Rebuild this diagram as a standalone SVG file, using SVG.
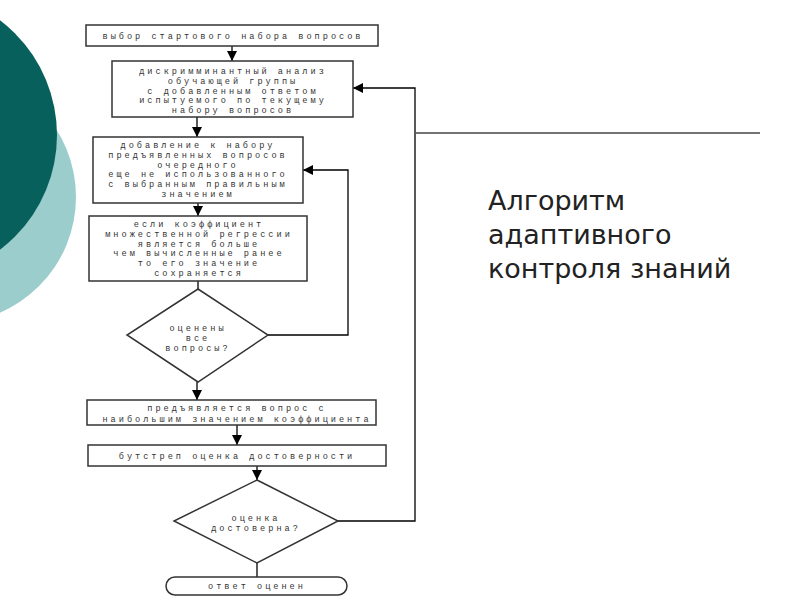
<svg xmlns="http://www.w3.org/2000/svg" width="800" height="600" viewBox="0 0 800 600">
<defs>
<marker id="ah" markerUnits="userSpaceOnUse" markerWidth="10" markerHeight="10" refX="10" refY="5" orient="auto" viewBox="0 0 10 10">
<path d="M0,0 L10,5 L0,10 z" fill="#000"/>
</marker>
<style>
.box{fill:#fff;stroke:#333;stroke-width:1.5}
.t{font-family:"Liberation Mono","DejaVu Sans Mono",monospace;font-size:8.6px;letter-spacing:3px;fill:#333;text-anchor:middle}
.c{fill:none;stroke:#000;stroke-width:1.3}
.ttl{font-family:"DejaVu Sans","Noto Sans",sans-serif;font-size:27px;fill:#222}
</style>
</defs>
<rect width="800" height="600" fill="#fff"/>
<g id="decor">
<circle cx="-50" cy="197" r="126" fill="#9ccdcd"/>
<circle cx="-87" cy="135" r="144" fill="#07605c"/>
<line x1="416" y1="133" x2="760" y2="133" stroke="#444" stroke-width="1.3"/>
</g>
<g id="title">
<text class="ttl" x="488" y="210">Алгоритм</text>
<text class="ttl" x="488" y="244">адаптивного</text>
<text class="ttl" x="488" y="278">контроля знаний</text>
</g>
<g id="connectors">
<line class="c" x1="232" y1="46" x2="232" y2="61" marker-end="url(#ah)"/>
<line class="c" x1="197" y1="117" x2="197" y2="137" marker-end="url(#ah)"/>
<line class="c" x1="198" y1="203" x2="198" y2="216" marker-end="url(#ah)"/>
<line class="c" x1="198" y1="281" x2="198" y2="289"/>
<line class="c" x1="197" y1="382" x2="197" y2="400" marker-end="url(#ah)"/>
<line class="c" x1="237" y1="425" x2="237" y2="445" marker-end="url(#ah)"/>
<line class="c" x1="257" y1="466" x2="257" y2="480" marker-end="url(#ah)"/>
<line class="c" x1="257" y1="563" x2="257" y2="577"/>
<polyline class="c" points="268,335 348,335 348,170 303,170" marker-end="url(#ah)"/>
<polyline class="c" points="338,521 415,521 415,88 353,88" marker-end="url(#ah)"/>
</g>
<g id="n1">
<rect class="box" x="86" y="25" width="292" height="21"/>
<text class="t" x="233" y="39">выбор стартового набора вопросов</text>
</g>
<g id="n2">
<rect class="box" x="112" y="61" width="241" height="56"/>
<text class="t" x="233" y="74">дискримминантный анализ</text>
<text class="t" x="233" y="83.8">обучающей группы</text>
<text class="t" x="233" y="93.6">с добавленным ответом</text>
<text class="t" x="233" y="103.4">испытуемого по текущему</text>
<text class="t" x="233" y="113.2">набору вопросов</text>
</g>
<g id="n3">
<rect class="box" x="93" y="137" width="210" height="66"/>
<text class="t" x="198" y="148">добавление к набору</text>
<text class="t" x="198" y="157.8">предъявленных вопросов</text>
<text class="t" x="198" y="167.6">очередного</text>
<text class="t" x="198" y="177.4">еще не использованного</text>
<text class="t" x="198" y="187.2">с выбранным правильным</text>
<text class="t" x="198" y="197">значением</text>
</g>
<g id="n4">
<rect class="box" x="89" y="216" width="218" height="65"/>
<text class="t" x="199" y="227">если коэффициент</text>
<text class="t" x="199" y="236.8">множественной регрессии</text>
<text class="t" x="199" y="246.6">является больше</text>
<text class="t" x="199" y="256.4">чем вычисленные ранее</text>
<text class="t" x="199" y="266.2">то его значение</text>
<text class="t" x="199" y="276">сохраняется</text>
</g>
<g id="n5">
<polygon class="box" points="198,289 268,335 198,382 127,335"/>
<text class="t" x="198" y="331">оценены</text>
<text class="t" x="198" y="340.8">все</text>
<text class="t" x="198" y="350.6">вопросы?</text>
</g>
<g id="n6">
<rect class="box" x="87" y="400" width="289" height="25"/>
<text class="t" x="237" y="411">предъявляется вопрос с</text>
<text class="t" x="237" y="422">наибольшим значением коэффициента</text>
</g>
<g id="n7">
<rect class="box" x="88" y="445" width="298" height="21"/>
<text class="t" x="237" y="459">бутстреп оценка достоверности</text>
</g>
<g id="n8">
<polygon class="box" points="257,480 338,521 257,563 174,521"/>
<text class="t" x="256" y="521">оценка</text>
<text class="t" x="256" y="531">достоверна?</text>
</g>
<g id="n9">
<rect class="box" x="166" y="577" width="181" height="18" rx="9" ry="9"/>
<text class="t" x="257" y="589">ответ оценен</text>
</g>
</svg>
